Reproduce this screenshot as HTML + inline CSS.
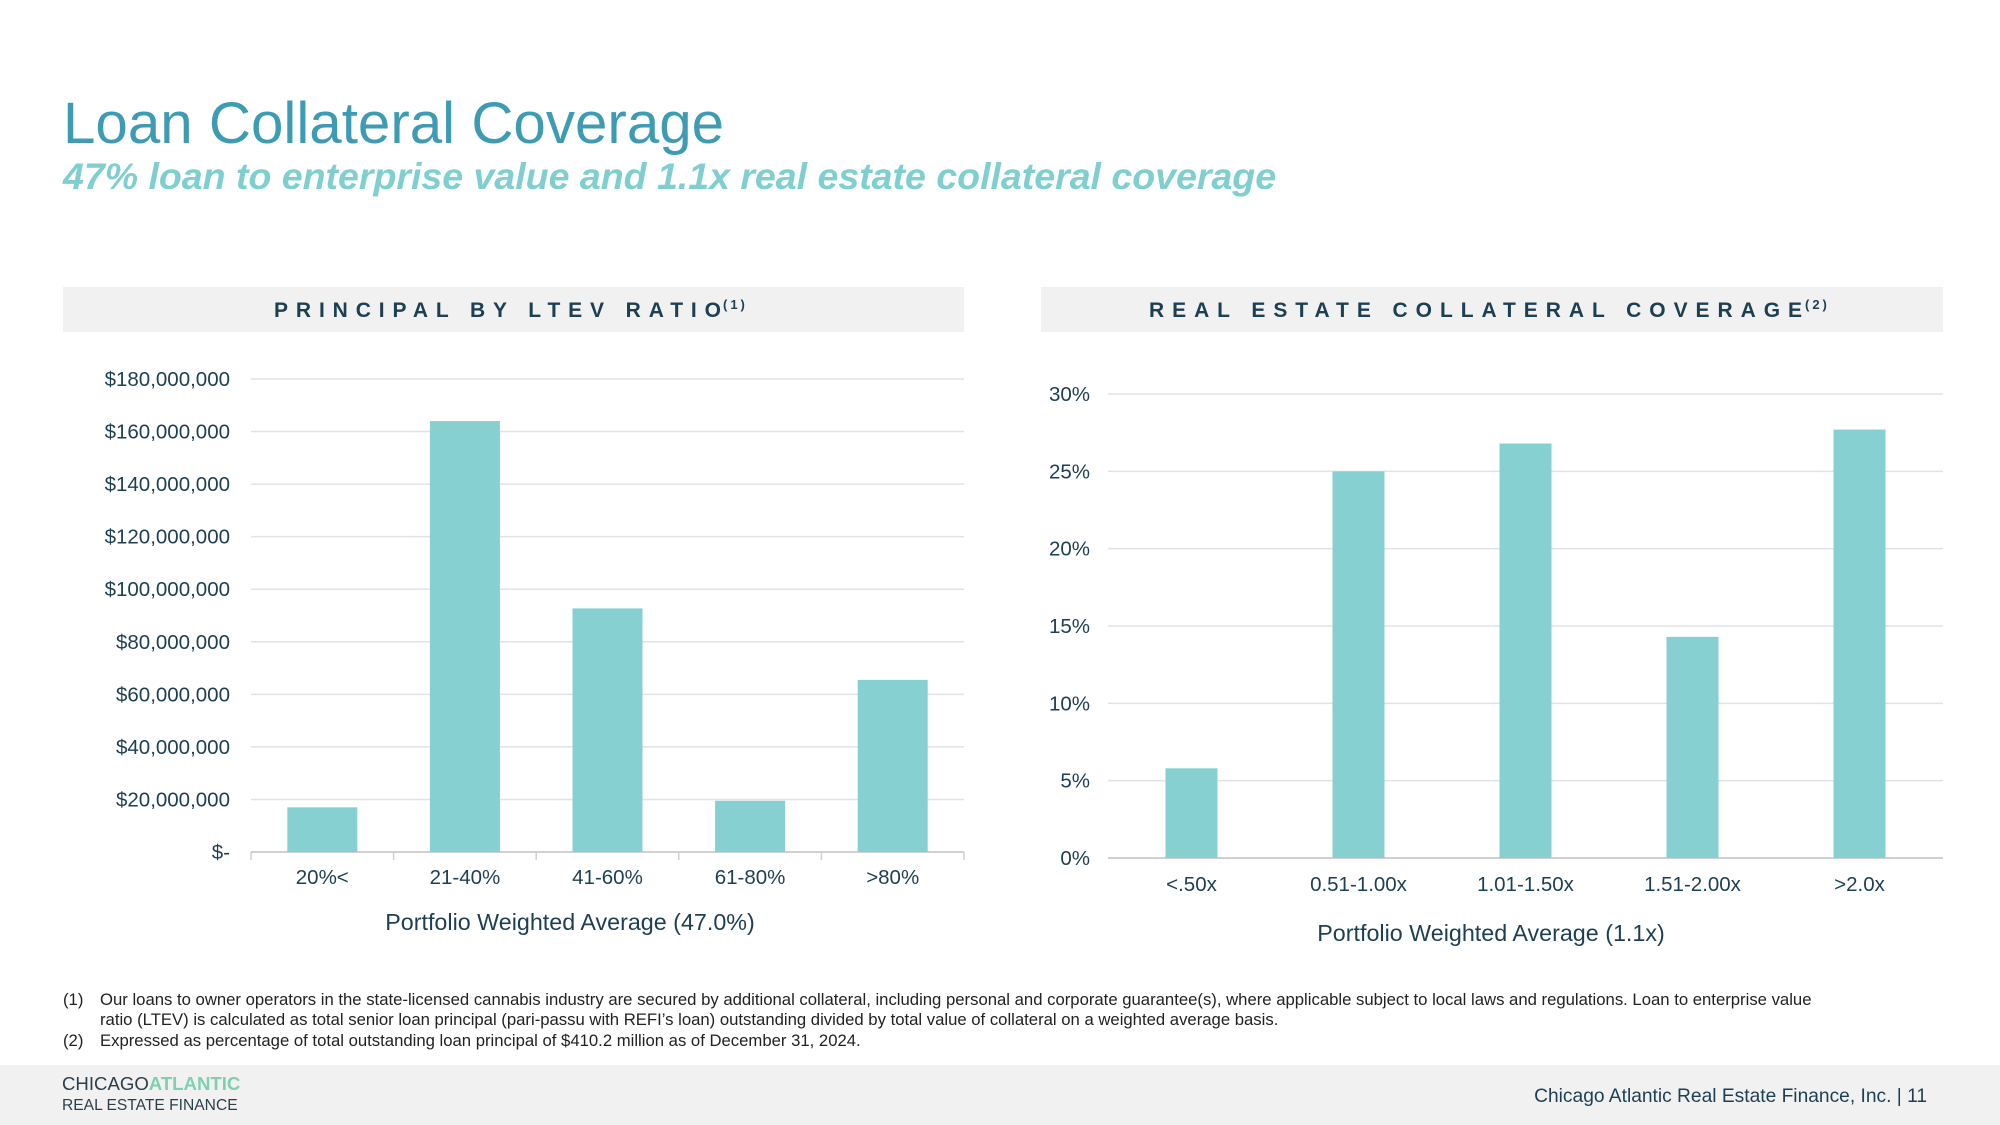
<!DOCTYPE html>
<html><head><meta charset="utf-8"><style>
html,body{margin:0;padding:0;background:#fff;}
svg{display:block;font-family:"Liberation Sans",Arial,sans-serif;}
</style></head><body>
<svg id="s" width="2000" height="1125" viewBox="0 0 2000 1125">
<text x="63" y="143" font-size="58.3" fill="#3e9bb4">Loan Collateral Coverage</text>
<text x="63" y="189" font-size="37.5" font-weight="bold" font-style="italic" fill="#7fcfd0">47% loan to enterprise value and 1.1x real estate collateral coverage</text>

<rect x="63" y="287" width="901" height="45" fill="#f1f1f1"/>
<text x="274" y="317" font-size="21" font-weight="bold" fill="#1d3f52" textLength="447" lengthAdjust="spacing">PRINCIPAL BY LTEV RATIO</text>
<text x="723" y="309" font-size="13" font-weight="bold" fill="#1d3f52" letter-spacing="3">(1)</text>

<rect x="1041" y="287" width="902" height="45" fill="#f1f1f1"/>
<text x="1149" y="317" font-size="21" font-weight="bold" fill="#1d3f52" textLength="653" lengthAdjust="spacing">REAL ESTATE COLLATERAL COVERAGE</text>
<text x="1805" y="309" font-size="13" font-weight="bold" fill="#1d3f52" letter-spacing="3">(2)</text>

<g id="left"></g>
<g id="right"></g>

<g font-size="16.7" fill="#222">
<text x="63" y="1005">(1)</text>
<text x="100" y="1005">Our loans to owner operators in the state-licensed cannabis industry are secured by additional collateral, including personal and corporate guarantee(s), where applicable subject to local laws and regulations. Loan to enterprise value</text>
<text x="100" y="1025">ratio (LTEV) is calculated as total senior loan principal (pari-passu with REFI’s loan) outstanding divided by total value of collateral on a weighted average basis.</text>
<text x="63" y="1046">(2)</text>
<text x="100" y="1046">Expressed as percentage of total outstanding loan principal of $410.2 million as of December 31, 2024.</text>
</g>

<rect x="0" y="1065" width="2000" height="60" fill="#f1f1f1"/>
<text x="62" y="1090" font-size="18.6" fill="#2c3e4a">CHICAGO<tspan fill="#7fcfb0" font-weight="bold">ATLANTIC</tspan></text>
<text x="62" y="1110" font-size="15.6" fill="#2c3e4a">REAL ESTATE FINANCE</text>
<text x="1927" y="1102" font-size="19.2" fill="#1d3f52" text-anchor="end">Chicago Atlantic Real Estate Finance, Inc. |  11</text>
</svg>
<script>
const ltevCategories = ["20%<","21-40%","41-60%","61-80%",">80%"];
const ltevValues = [17000000,164000000,92700000,19500000,65500000];
const ltevTicks = [0,20000000,40000000,60000000,80000000,100000000,120000000,140000000,160000000,180000000];
const ltevTickLabels = ["$-","$20,000,000","$40,000,000","$60,000,000","$80,000,000","$100,000,000","$120,000,000","$140,000,000","$160,000,000","$180,000,000"];

const covCategories = ["<.50x","0.51-1.00x","1.01-1.50x","1.51-2.00x",">2.0x"];
const covValues = [5.8,25.0,26.8,14.3,27.7];
const covTicks = [0,5,10,15,20,25,30];
const covTickLabels = ["0%","5%","10%","15%","20%","25%","30%"];

const NS="http://www.w3.org/2000/svg";
function mk(parent,tag,attrs,text){const e=document.createElementNS(NS,tag);for(const k in attrs)e.setAttribute(k,attrs[k]);if(text!==undefined)e.textContent=text;parent.appendChild(e);return e;}

function chart(g,cfg){
  const y=v=>cfg.y0-(v-cfg.vmin)/(cfg.vmax-cfg.vmin)*(cfg.y0-cfg.y1);
  const band=(cfg.x1-cfg.x0)/cfg.cats.length;
  const x=i=>cfg.x0+band*i+band/2;
  cfg.ticks.forEach((t,i)=>{
    const l=mk(g,'line',{x1:cfg.x0,x2:cfg.x1,y1:y(t),y2:y(t),stroke:i===0?'#d0d0d0':'#e3e3e3','stroke-width':i===0?2:1.5});
    
    
    const tx=mk(g,'text',{x:cfg.labX,y:y(t)+7,'text-anchor':'end','font-size':20.5,fill:'#1d3f52'},cfg.tickLabels[i]);
    
    
  });
  if(cfg.tickMarks){
    for(let i=0;i<=cfg.cats.length;i++){
      const m=mk(g,'line',{x1:cfg.x0+band*i,x2:cfg.x0+band*i,y1:cfg.y0,y2:cfg.y0+8,stroke:'#d0d0d0','stroke-width':1.5});
      
      
    }
  }
  cfg.vals.forEach((v,i)=>{
    const r=mk(g,'rect',{x:x(i)-cfg.bw/2,y:y(v),width:cfg.bw,height:y(cfg.vmin)-y(v),fill:'#87d0d2'});
    
    
    const t=mk(g,'text',{x:x(i),y:cfg.catY,'text-anchor':'middle','font-size':20.5,fill:'#1d3f52'},cfg.cats[i]);
    
    
  });
  const at=mk(g,'text',{x:cfg.titleX,y:cfg.titleY,'text-anchor':'middle','font-size':23.3,fill:'#1d3f52'},cfg.title);
  
  
}
chart(document.getElementById('left'),{x0:251,x1:964,y0:852,y1:379,vmin:0,vmax:180000000,ticks:ltevTicks,tickLabels:ltevTickLabels,cats:ltevCategories,vals:ltevValues,bw:70,labX:230,catY:884,titleX:570,titleY:930,title:"Portfolio Weighted Average (47.0%)",tickMarks:true});
chart(document.getElementById('right'),{x0:1108,x1:1943,y0:858,y1:394,vmin:0,vmax:30,ticks:covTicks,tickLabels:covTickLabels,cats:covCategories,vals:covValues,bw:52,labX:1090,catY:891,titleX:1491,titleY:941,title:"Portfolio Weighted Average (1.1x)",tickMarks:false});
</script>
</body></html>
